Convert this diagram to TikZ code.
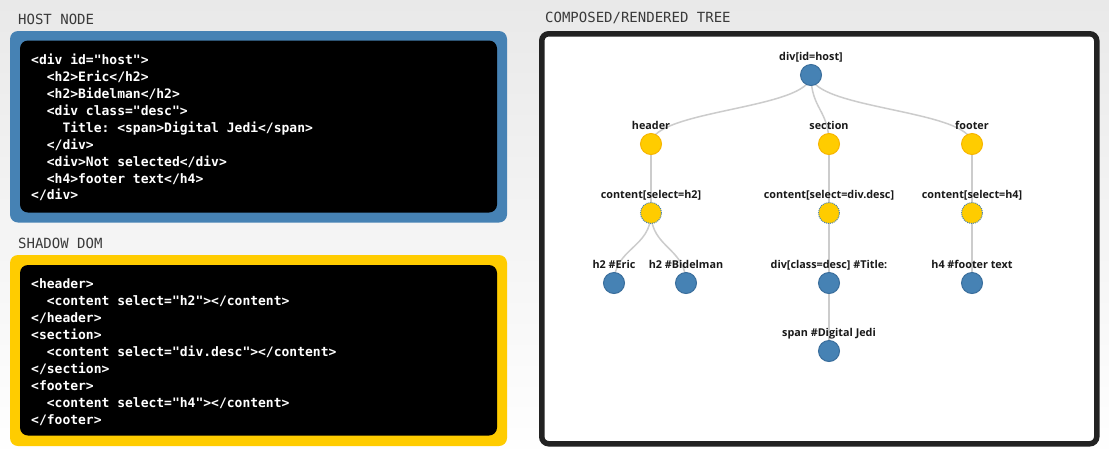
\documentclass[tikz,border=0pt]{standalone}
\usepackage{fontspec}
\newfontfamily\codefont{DejaVu Sans Mono}
\newfontfamily\treefont{Open Sans}
\usetikzlibrary{calc}
\pgfdeclarelayer{back}
\pgfdeclarelayer{links}
\pgfsetlayers{back,links,main}
\definecolor{steel}{HTML}{4682B4}
\definecolor{steeldark}{HTML}{3A6E9C}
\definecolor{gold}{HTML}{FFCC00}
\definecolor{goldedge}{HTML}{F7B500}
\definecolor{linkgray}{HTML}{CCCCCC}
\definecolor{framecol}{HTML}{222222}
\definecolor{hdrgray}{HTML}{3A3A3A}
\definecolor{bgtop}{HTML}{E9E9E9}
\frenchspacing
\newcommand\codeind{\hphantom{xx}}
\newcommand\diagl[2]{\draw[link] (#1.center) .. controls ($(#1.center)!0.5!(#1.center|-#2.center)$) and ($(#2.center)!0.5!(#2.center|-#1.center)$) .. (#2.center);}
\begin{document}
\begin{tikzpicture}[x=1pt,y=-1pt,
  code/.style={font={\codefont\bfseries\fontsize{13}{15}\selectfont}, text=white, inner sep=0pt, anchor=base west},
  hdr/.style={font={\codefont\fontsize{14}{16}\selectfont}, text=hdrgray, inner sep=0pt, anchor=base west},
  lbl/.style={font={\treefont\bfseries\fontsize{10.8}{12}\selectfont}, text=black!90, inner sep=0pt, anchor=base},
  elem/.style={circle, minimum size=21pt, inner sep=0pt, fill=steel, draw=steeldark, line width=1pt},
  shad/.style={circle, minimum size=21pt, inner sep=0pt, fill=gold, draw=goldedge, line width=1pt},
  ins/.style={circle, minimum size=21pt, inner sep=0pt, fill=gold, draw=steel, densely dotted, line width=1pt},
  link/.style={draw=linkgray, line width=1.5pt},
  outerbox/.style={rounded corners=8pt},
  innerbox/.style={fill=black, rounded corners=8pt}]
\useasboundingbox (0,0) rectangle (1109,459);
\begin{pgfonlayer}{back}
  \shade[top color=bgtop, bottom color=white] (0,0) rectangle (1109,459);
  % host node box
  \fill[outerbox, fill=steel] (10,31) rectangle (507,222.5);
  \fill[innerbox] (20,40.5) rectangle (497,212.5);
  % shadow box
  \fill[outerbox, fill=gold] (10,255) rectangle (507,446);
  \fill[innerbox] (20,265) rectangle (497,435.5);
  % tree frame
  \draw[fill=white, draw=framecol, line width=5.5pt, rounded corners=7pt] (541.75,33.75) rectangle (1096.75,443.75);
\end{pgfonlayer}

\node[hdr] (hosthdr) at (18,24.5) {HOST NODE};
\node[hdr] (shadowhdr) at (18,248.5) {SHADOW DOM};
\node[hdr] (treehdr) at (545,22) {COMPOSED/RENDERED TREE};

\foreach \t [count=\i from 0] in {
  {<div id="host">},
  {\codeind<h2>Eric</h2>},
  {\codeind<h2>Bidelman</h2>},
  {\codeind<div class="desc">},
  {\codeind\codeind Title: <span>Digital Jedi</span>},
  {\codeind</div>},
  {\codeind<div>Not selected</div>},
  {\codeind<h4>footer text</h4>},
  {</div>}}
  \node[code] (host\i) at (31,64.7+16.9*\i) {\t};

\foreach \t [count=\i from 0] in {
  {<header>},
  {\codeind<content select="h2"></content>},
  {</header>},
  {<section>},
  {\codeind<content select="div.desc"></content>},
  {</section>},
  {<footer>},
  {\codeind<content select="h4"></content>},
  {</footer>}}
  \node[code] (shadow\i) at (31,288+17*\i) {\t};

% tree nodes
\node[elem] (root) at (811,75) {};
\node[shad] (header) at (651,144) {};
\node[shad] (section) at (829,144) {};
\node[shad] (footer) at (972,144) {};
\node[ins] (c1) at (651,213) {};
\node[ins] (c2) at (829,213) {};
\node[ins] (c3) at (972,213) {};
\node[elem] (eric) at (614,283) {};
\node[elem] (bid) at (686,283) {};
\node[elem] (desc) at (829,283) {};
\node[elem] (foot) at (972,283) {};
\node[elem] (span) at (829,351) {};

\node[lbl] (rootL) at (811,60) {div[id=host]};
\node[lbl] (headerL) at (651,129) {header};
\node[lbl] (sectionL) at (829,129) {section};
\node[lbl] (footerL) at (972,129) {footer};
\node[lbl] (c1L) at (651,198) {content[select=h2]};
\node[lbl] (c2L) at (829,198) {content[select=div.desc]};
\node[lbl] (c3L) at (972,198) {content[select=h4]};
\node[lbl] (ericL) at (614,268) {h2 \#Eric};
\node[lbl] (bidL) at (686,268) {h2 \#Bidelman};
\node[lbl] (descL) at (829,268) {div[class=desc] \#Title:};
\node[lbl] (footL) at (972,268) {h4 \#footer text};
\node[lbl] (spanL) at (829,336) {span \#Digital Jedi};

\begin{pgfonlayer}{links}
  \diagl{root}{header}
  \diagl{root}{section}
  \diagl{root}{footer}
  \diagl{header}{c1}
  \diagl{section}{c2}
  \diagl{footer}{c3}
  \diagl{c1}{eric}
  \diagl{c1}{bid}
  \diagl{c2}{desc}
  \diagl{c3}{foot}
  \diagl{desc}{span}
\end{pgfonlayer}
\end{tikzpicture}
\end{document}
